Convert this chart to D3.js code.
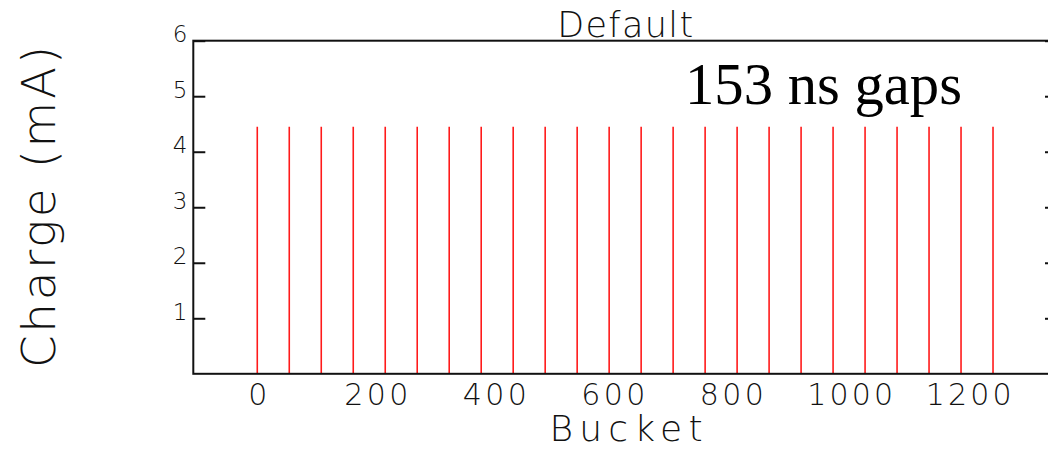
<!DOCTYPE html>
<html>
<head>
<meta charset="utf-8">
<script src="https://cdn.jsdelivr.net/npm/d3@7"></script>
<style>
  html, body { margin: 0; padding: 0; background: #fff; }
  svg { display: block; }
  .hers { font-family: "DejaVu Sans", sans-serif; font-weight: 200; fill: #111; }
</style>
</head>
<body>
<svg id="chart" width="1048" height="449"></svg>
<script>
// Bunch positions (bucket number) and charge per bunch (mA)
const buckets = [0, 54, 108, 162, 216, 270, 324, 378, 432, 486, 540, 594,
                 648, 702, 756, 810, 864, 918, 972, 1026, 1080, 1134, 1188, 1242];
const charge = [4.45, 4.45, 4.45, 4.45, 4.45, 4.45, 4.45, 4.45, 4.45, 4.45, 4.45, 4.45,
                4.45, 4.45, 4.45, 4.45, 4.45, 4.45, 4.45, 4.45, 4.45, 4.45, 4.45, 4.45];
const xTicks = [0, 200, 400, 600, 800, 1000, 1200];
const yTicks = [1, 2, 3, 4, 5, 6];
const xDomain = [-108, 1350];
const yDomain = [0, 6];

const svg = d3.select("#chart");
const plotL = 193.3, plotR = 1057, plotT = 40.7, plotB = 373.8;

const x = d3.scaleLinear().domain(xDomain).range([plotL, plotR]);
const y = d3.scaleLinear().domain(yDomain).range([plotB, plotT]);

// bunch charge lines
svg.append("g")
  .selectAll("line")
  .data(buckets)
  .join("line")
  .attr("x1", d => x(d)).attr("x2", d => x(d))
  .attr("y1", y(0))
  .attr("y2", (d, i) => y(charge[i]))
  .attr("stroke", "#ff1a1a")
  .attr("stroke-width", 1.6);

// frame
svg.append("rect")
  .attr("x", plotL).attr("y", plotT)
  .attr("width", plotR - plotL).attr("height", plotB - plotT)
  .attr("fill", "none").attr("stroke", "#111").attr("stroke-width", 2);

// left axis: inward ticks, labels sitting on the tick
const yAxis = svg.append("g")
  .attr("transform", `translate(${plotL},0)`)
  .call(d3.axisLeft(y).tickValues(yTicks).tickSizeInner(-12).tickSizeOuter(0)
    .tickPadding(8).tickFormat(d3.format("d")));
yAxis.select(".domain").remove();
yAxis.selectAll(".tick line").attr("stroke", "#111").attr("stroke-width", 2);
yAxis.selectAll(".tick text")
  .attr("class", "hers")
  .attr("font-size", 23)
  .attr("dy", "0.05em")
  .attr("x", -6);

// right axis: inward ticks only
const yAxisR = svg.append("g")
  .attr("transform", `translate(${plotR},0)`)
  .call(d3.axisRight(y).tickValues(yTicks).tickSizeInner(-12).tickSizeOuter(0).tickFormat(""));
yAxisR.select(".domain").remove();
yAxisR.selectAll(".tick line").attr("stroke", "#111").attr("stroke-width", 2);

// bottom axis labels (no tick marks)
const xAxis = svg.append("g")
  .attr("transform", `translate(0,${plotB})`)
  .call(d3.axisBottom(x).tickValues(xTicks).tickSize(0).tickPadding(0).tickFormat(d3.format("d")));
xAxis.select(".domain").remove();
xAxis.selectAll(".tick text")
  .attr("class", "hers")
  .attr("font-size", 30)
  .attr("y", 31)
  .attr("dy", 0)
  .each(function (d) {
    const s = String(d);
    if (s.length > 1) {
      d3.select(this).attr("textLength", 21.7 * s.length - 1).attr("lengthAdjust", "spacing");
    }
  });

// titles
svg.append("text")
  .attr("class", "hers")
  .attr("x", (plotL + plotR) / 2).attr("y", 37)
  .attr("text-anchor", "middle")
  .attr("font-size", 35)
  .attr("textLength", 136).attr("lengthAdjust", "spacing")
  .text("Default");

svg.append("text")
  .attr("class", "hers")
  .attr("x", 626).attr("y", 440.5)
  .attr("text-anchor", "middle")
  .attr("font-size", 36)
  .attr("textLength", 153).attr("lengthAdjust", "spacing")
  .text("Bucket");

svg.append("text")
  .attr("class", "hers")
  .attr("transform", "translate(55,207) rotate(-90)")
  .attr("text-anchor", "middle")
  .attr("font-size", 47)
  .attr("textLength", 322).attr("lengthAdjust", "spacing")
  .text("Charge (mA)");

// annotation
svg.append("text")
  .attr("x", 685).attr("y", 104)
  .attr("font-family", "'Liberation Serif', 'Times New Roman', serif")
  .attr("font-size", 59)
  .attr("fill", "#000")
  .attr("textLength", 277).attr("lengthAdjust", "spacingAndGlyphs")
  .text("153 ns gaps");
</script>
</body>
</html>
